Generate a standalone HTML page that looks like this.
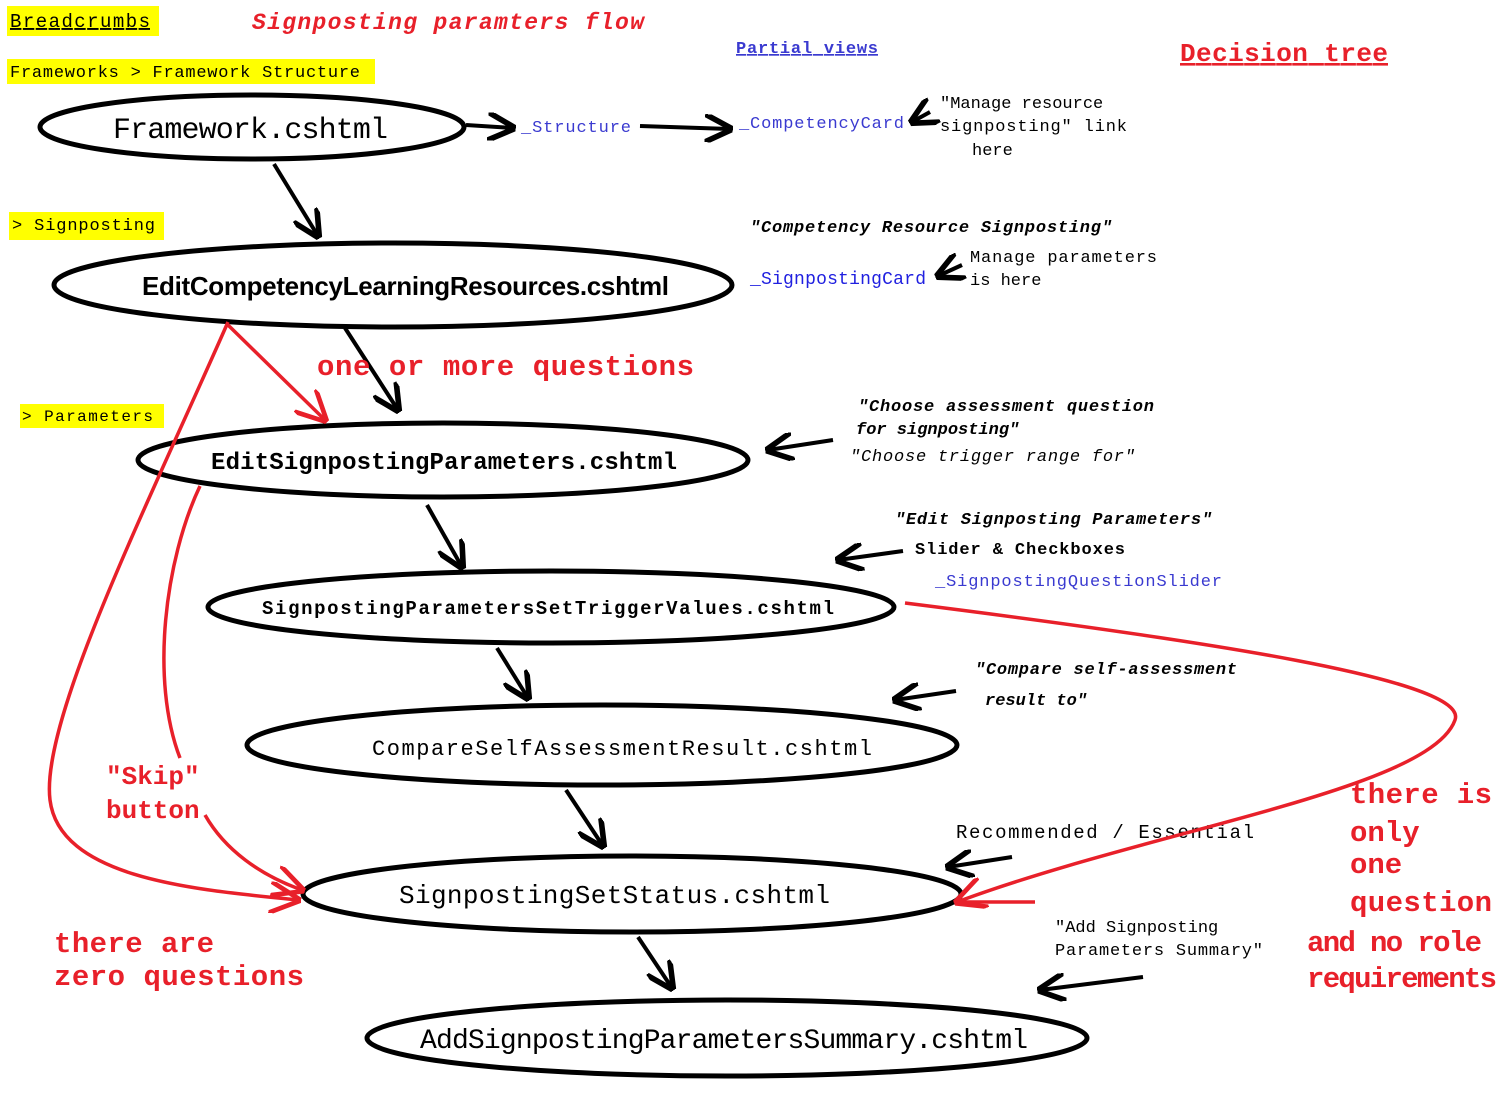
<!DOCTYPE html>
<html><head><meta charset="utf-8"><style>
html,body{margin:0;padding:0;background:#fff;width:1504px;height:1100px;overflow:hidden}
svg{display:block}
.m{font-family:"Liberation Mono",monospace}
.s{font-family:"Liberation Sans",sans-serif}
</style></head><body>
<svg width="1504" height="1100" viewBox="0 0 1504 1100" xmlns="http://www.w3.org/2000/svg">
<defs>
<marker id="ab" viewBox="0 0 10 10" refX="9" refY="5" markerWidth="7" markerHeight="7" orient="auto"><path d="M0,0 L10,5 L0,10" fill="none" stroke="#000" stroke-width="2"/></marker>
<marker id="ar" viewBox="0 0 10 10" refX="9" refY="5" markerWidth="9" markerHeight="9" orient="auto"><path d="M0,0 L10,5 L0,10" fill="none" stroke="#e8202a" stroke-width="1.5"/></marker>
</defs>
<rect x="7" y="6" width="152" height="30" fill="#ffff00"/>
<text x="10" y="27" class="m" font-size="19" text-decoration="underline" textLength="140">Breadcrumbs</text>
<rect x="7" y="59" width="368" height="25" fill="#ffff00"/>
<text x="10" y="77" class="m" font-size="17" textLength="350">Frameworks &gt; Framework Structure</text>
<rect x="9" y="212" width="155" height="28" fill="#ffff00"/>
<text x="12" y="230" class="m" font-size="17" textLength="143">&gt; Signposting</text>
<rect x="20" y="404" width="144" height="24" fill="#ffff00"/>
<text x="22" y="421" class="m" font-size="16" textLength="131">&gt; Parameters</text>

<text x="252" y="29" class="m" font-size="23" font-style="italic" font-weight="bold" fill="#e8202a" textLength="392">Signposting paramters flow</text>
<text x="736" y="53" class="m" font-size="17" font-weight="bold" fill="#3a3ad0" text-decoration="underline" textLength="142">Partial views</text>
<text x="1180" y="61" class="m" font-size="26" font-weight="bold" fill="#e8202a" text-decoration="underline" textLength="208">Decision tree</text>

<g fill="none" stroke="#000" stroke-width="5">
<ellipse cx="252" cy="127" rx="212" ry="32"/>
<ellipse cx="393" cy="285" rx="339" ry="42"/>
<ellipse cx="443" cy="460" rx="305" ry="37"/>
<ellipse cx="551" cy="607" rx="343" ry="36"/>
<ellipse cx="602" cy="745" rx="355" ry="40"/>
<ellipse cx="632" cy="894" rx="329" ry="38"/>
<ellipse cx="727" cy="1038" rx="360" ry="38"/>
</g>
<text x="113" y="138" class="m" font-size="30" textLength="275">Framework.cshtml</text>
<text x="142" y="295" class="s" font-size="26" font-weight="bold" textLength="527">EditCompetencyLearningResources.cshtml</text>
<text x="211" y="469" class="m" font-size="24" font-weight="bold" textLength="466">EditSignpostingParameters.cshtml</text>
<text x="262" y="614" class="m" font-size="19" font-weight="bold" textLength="572">SignpostingParametersSetTriggerValues.cshtml</text>
<text x="372" y="755" class="m" font-size="22" textLength="500">CompareSelfAssessmentResult.cshtml</text>
<text x="399" y="903" class="m" font-size="26" textLength="431">SignpostingSetStatus.cshtml</text>
<text x="420" y="1048" class="m" font-size="28" textLength="608">AddSignpostingParametersSummary.cshtml</text>

<g stroke="#000" stroke-width="4" fill="none" marker-end="url(#ab)">
<line x1="466" y1="125" x2="513" y2="128"/>
<line x1="640" y1="126" x2="730" y2="129"/>
<line x1="930" y1="112" x2="912" y2="122"/>
<line x1="274" y1="164" x2="318" y2="236"/>
<line x1="962" y1="265" x2="938" y2="276"/>
<line x1="345" y1="328" x2="398" y2="410"/>
<line x1="833" y1="440" x2="768" y2="450"/>
<line x1="427" y1="505" x2="462" y2="567"/>
<line x1="903" y1="551" x2="838" y2="560"/>
<line x1="497" y1="648" x2="528" y2="698"/>
<line x1="956" y1="691" x2="895" y2="700"/>
<line x1="566" y1="790" x2="603" y2="846"/>
<line x1="1012" y1="857" x2="948" y2="867"/>
<line x1="638" y1="937" x2="672" y2="988"/>
<line x1="1143" y1="977" x2="1040" y2="990"/>
</g>

<text x="521" y="132" class="m" font-size="17" fill="#3a3ad0" textLength="110">_Structure</text>
<text x="739" y="128" class="m" font-size="17" fill="#3a3ad0" textLength="165">_CompetencyCard</text>
<text x="940" y="108" class="m" font-size="17">"Manage resource</text>
<text x="940" y="131" class="m" font-size="17" textLength="187">signposting" link</text>
<text x="972" y="155" class="m" font-size="17">here</text>
<text x="750" y="232" class="m" font-size="17" font-weight="bold" font-style="italic" textLength="362">"Competency Resource Signposting"</text>
<text x="750" y="284" class="m" font-size="18" fill="#2020e0" textLength="176">_SignpostingCard</text>
<text x="970" y="262" class="m" font-size="17" textLength="187">Manage parameters</text>
<text x="970" y="285" class="m" font-size="17">is here</text>
<text x="858" y="411" class="m" font-size="17" font-weight="bold" font-style="italic" textLength="296">"Choose assessment question</text>
<text x="856" y="434" class="m" font-size="17" font-weight="bold" font-style="italic">for signposting"</text>
<text x="850" y="461" class="m" font-size="17" font-style="italic" textLength="285">"Choose trigger range for"</text>
<text x="895" y="524" class="m" font-size="17" font-weight="bold" font-style="italic" textLength="317">"Edit Signposting Parameters"</text>
<text x="915" y="554" class="m" font-size="17" font-weight="bold" textLength="210">Slider &amp; Checkboxes</text>
<text x="935" y="586" class="m" font-size="17" fill="#3a3ad0" textLength="287">_SignpostingQuestionSlider</text>
<text x="975" y="674" class="m" font-size="17" font-weight="bold" font-style="italic" textLength="262">"Compare self-assessment</text>
<text x="985" y="705" class="m" font-size="17" font-weight="bold" font-style="italic">result to"</text>
<text x="956" y="838" class="m" font-size="19" textLength="298">Recommended / Essential</text>
<text x="1055" y="932" class="m" font-size="17">"Add Signposting</text>
<text x="1055" y="955" class="m" font-size="17" textLength="208">Parameters Summary"</text>

<g stroke="#e8202a" stroke-width="3.5" fill="none">
<path d="M228,322 C150,500 40,720 50,800 C60,880 200,890 298,900" marker-end="url(#ar)"/>
<line x1="228" y1="325" x2="325" y2="420" marker-end="url(#ar)"/>
<path d="M200,486 C165,560 150,680 180,758"/>
<path d="M205,815 C225,850 260,875 302,890" marker-end="url(#ar)"/>
<path d="M905,603 C1200,640 1470,680 1455,720 C1430,790 1150,830 957,902" marker-end="url(#ar)"/>
<line x1="960" y1="902" x2="1035" y2="902"/>
</g>
<g class="m" font-weight="bold" fill="#e8202a">
<text x="317" y="375" font-size="29" textLength="377">one or more questions</text>
<text x="106" y="784" font-size="26">"Skip"</text>
<text x="106" y="818" font-size="26">button</text>
<text x="54" y="952" font-size="29" textLength="160">there are</text>
<text x="54" y="985" font-size="29" textLength="250">zero questions</text>
<text x="1350" y="803" font-size="29" textLength="142">there is</text>
<text x="1350" y="841" font-size="29">only</text>
<text x="1350" y="873" font-size="29">one</text>
<text x="1350" y="911" font-size="29" textLength="142">question</text>
<text x="1307" y="951" font-size="29" textLength="175">and no role</text>
<text x="1307" y="987" font-size="29" textLength="190">requirements</text>
</g>
</svg>
</body></html>
